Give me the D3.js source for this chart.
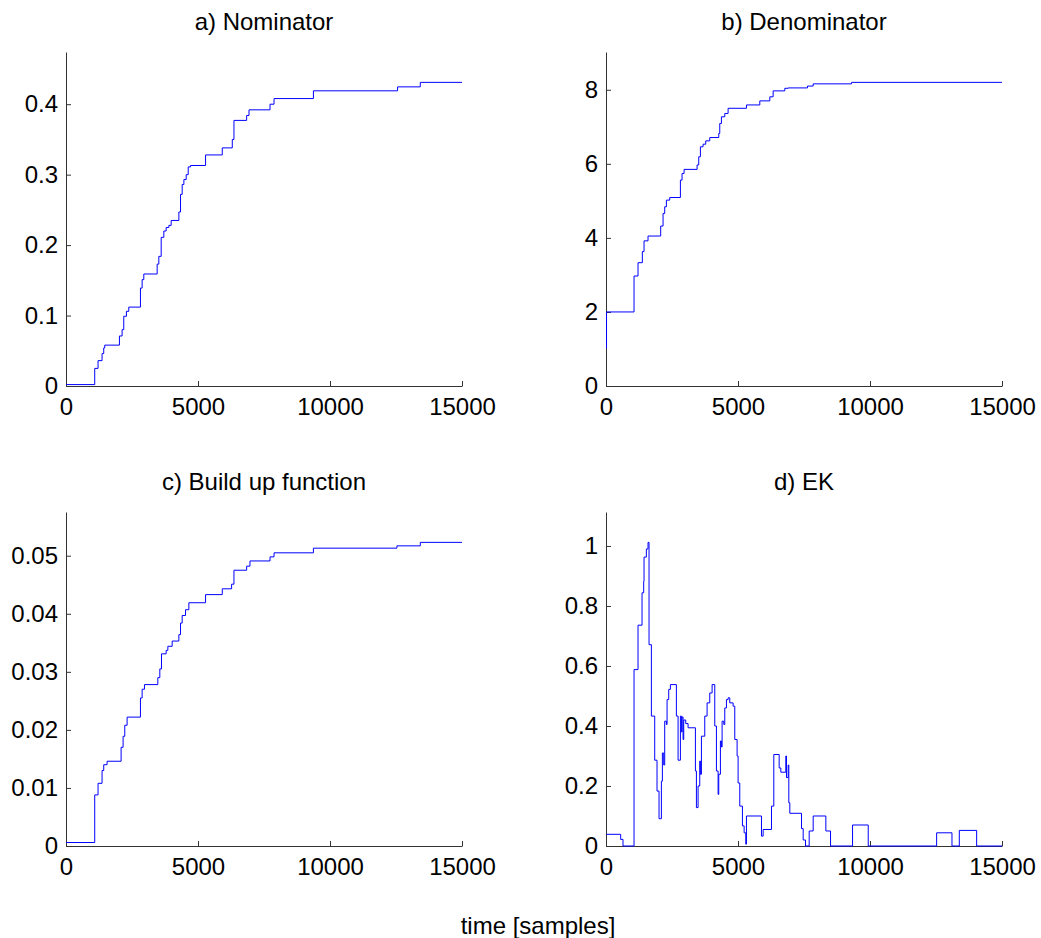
<!DOCTYPE html>
<html>
<head>
<meta charset="utf-8">
<script src="https://cdn.jsdelivr.net/npm/d3@7"></script>
<style>
  body { margin: 0; background: #fff; }
  svg { display: block; font-family: "Liberation Sans", Arial, sans-serif; }
</style>
</head>
<body>
<svg id="chart" width="1041" height="938"></svg>
<script>
// a) Nominator - step points (sample, value)
const nomX = [0, 1088, 1214, 1366, 1429, 1467, 2024, 2125, 2188, 2289, 2378, 2820, 2884, 2947,
  3453, 3516, 3605, 3706, 3794, 3896, 3984, 4275, 4338, 4401, 4465, 4553, 4629, 4718, 5287,
  5919, 6299, 6362, 6843, 6932, 7728, 7880, 9372, 12560, 13420, 15000];
const nomY = [0.002, 0.025, 0.036, 0.046, 0.054, 0.058, 0.071, 0.080, 0.099, 0.106, 0.112, 0.139, 0.151, 0.159,
  0.173, 0.184, 0.211, 0.220, 0.225, 0.228, 0.235, 0.247, 0.272, 0.286, 0.293, 0.300, 0.311, 0.313, 0.328,
  0.338, 0.350, 0.377, 0.384, 0.392, 0.400, 0.408, 0.419, 0.4246, 0.431, 0.431];

// b) Denominator
const denX = [0, 20, 1062, 1213, 1377, 1441, 1592, 2072, 2161, 2224, 2287, 2414, 2818, 2881, 2957,
  3450, 3513, 3576, 3677, 3778, 3930, 4271, 4309, 4372, 4499, 4625, 5320, 5826, 6205, 6331,
  6773, 6900, 7633, 7848, 9301, 15000];
const denY = [1.02, 2.0, 2.97, 3.33, 3.63, 3.92, 4.05, 4.32, 4.66, 4.84, 5.02, 5.09, 5.56, 5.74, 5.85,
  5.97, 6.19, 6.46, 6.53, 6.62, 6.71, 6.82, 7.09, 7.27, 7.36, 7.50, 7.59, 7.70, 7.81, 7.97,
  8.04, 8.05, 8.10, 8.16, 8.20, 8.20];

// c) Build up function
const buildX = [0, 1088, 1214, 1366, 1429, 1556, 2087, 2163, 2226, 2315, 2820, 2884, 2972, 3478, 3554,
  3617, 3794, 3858, 4022, 4275, 4338, 4401, 4528, 4654, 5287, 5919, 6273, 6362, 6843, 6969,
  7728, 7880, 9372, 12534, 13420, 15000];
const buildY = [0.0006, 0.0088, 0.0108, 0.0130, 0.0140, 0.0146, 0.0170, 0.0189, 0.0208, 0.0222, 0.0255, 0.0270, 0.0278, 0.0290, 0.0305,
  0.0331, 0.0337, 0.0344, 0.0353, 0.0364, 0.0384, 0.0397, 0.0407, 0.0419, 0.0433, 0.0443, 0.0451, 0.0475, 0.0482, 0.0491,
  0.0498, 0.0505, 0.0513, 0.0517, 0.0523, 0.0523];

// d) EK
const ekX = [0, 556, 644, 1062, 1213, 1365, 1428, 1441, 1529, 1592, 1630, 1719, 1845, 1933, 2009, 2098,
  2136, 2186, 2224, 2287, 2313, 2376, 2439, 2666, 2730, 2818, 2856, 2881, 2919, 2944, 3020, 3109,
  3387, 3425, 3488, 3551, 3576, 3614, 3741, 3829, 3930, 4019, 4120, 4183, 4246, 4271, 4334, 4372,
  4398, 4461, 4499, 4562, 4625, 4688, 4815, 4878, 4966, 5004, 5067, 5168, 5232, 5295, 5320, 5889,
  5952, 6268, 6356, 6559, 6622, 6811, 6836, 6900, 6925, 6963, 7406, 7469, 7557, 7696, 7848, 8328,
  8505, 9339, 9933, 12524, 13105, 13383, 14040, 15000];
const ekY = [0.039, 0.022, 0, 0.588, 0.736, 0.844, 0.882, 0.963, 0.99, 1.012, 0.671, 0.433, 0.286, 0.183, 0.091, 0.216,
  0.31, 0.27, 0.416, 0.405, 0.488, 0.522, 0.538, 0.433, 0.286, 0.433, 0.38, 0.43, 0.355, 0.42, 0.408, 0.394,
  0.25, 0.128, 0.20, 0.283, 0.239, 0.366, 0.433, 0.477, 0.51, 0.538, 0.40, 0.25, 0.172, 0.239, 0.35, 0.33,
  0.416, 0.405, 0.46, 0.488, 0.494, 0.477, 0.466, 0.355, 0.30, 0.21, 0.133, 0.067, 0.044, 0.006, 0.1, 0.033,
  0.055, 0.133, 0.305, 0.26, 0.246, 0.30, 0.228, 0.27, 0.144, 0.109, 0.058, 0.02, 0, 0.05, 0.1, 0.05,
  0, 0.07, 0, 0.044, 0, 0.052, 0, 0];

const titles = ["a) Nominator", "b) Denominator", "c) Build up function", "d) EK"];
const xTicks = [0, 5000, 10000, 15000];
const nomTicks = [0, 0.1, 0.2, 0.3, 0.4];
const denTicks = [0, 2, 4, 6, 8];
const buildTicks = [0, 0.01, 0.02, 0.03, 0.04, 0.05];
const ekTicks = [0, 0.2, 0.4, 0.6, 0.8, 1];
const xLabel = "time [samples]";

const svg = d3.select("#chart");
const fontSize = 24;
const axisColor = "#333";

const panels = [
  { title: titles[0], xs: nomX, ys: nomY, ticks: nomTicks, left: 66, top: 52 },
  { title: titles[1], xs: denX, ys: denY, ticks: denTicks, left: 606, top: 52 },
  { title: titles[2], xs: buildX, ys: buildY, ticks: buildTicks, left: 66, top: 512 },
  { title: titles[3], xs: ekX, ys: ekY, ticks: ekTicks, left: 606, top: 512 }
];
const w = 396, h = 334;

panels.forEach(p => {
  const g = svg.append("g").attr("transform", `translate(${p.left},${p.top})`);
  const x = d3.scaleLinear().domain([0, 15000]).range([0, w]);
  // matlab-ish: ylim = max * 1.1
  const y = d3.scaleLinear().domain([0, d3.max(p.ys) * 1.1]).range([h, 0]);

  const xAxis = g.append("g")
    .attr("transform", `translate(0,${h})`)
    .call(d3.axisBottom(x).tickValues(xTicks).tickFormat(d3.format("d"))
      .tickSizeInner(-5).tickSizeOuter(0).tickPadding(12));
  const yAxis = g.append("g")
    .call(d3.axisLeft(y).tickValues(p.ticks).tickFormat(d3.format("~g"))
      .tickSizeInner(-5).tickSizeOuter(0).tickPadding(8));

  [xAxis, yAxis].forEach(a => {
    a.select(".domain").attr("stroke", axisColor);
    a.selectAll(".tick line").attr("stroke", axisColor);
    a.selectAll("text").attr("font-size", fontSize).attr("fill", "#000")
      .attr("font-family", "Liberation Sans, Arial, sans-serif");
  });

  const pts = p.xs.map((d, i) => [d, p.ys[i]]);
  g.append("path")
    .datum(pts)
    .attr("fill", "none")
    .attr("stroke", "#0000ff")
    .attr("stroke-width", 1)
    .attr("d", d3.line().curve(d3.curveStepAfter).x(d => x(d[0])).y(d => y(d[1])));

  g.append("text")
    .attr("x", w / 2)
    .attr("y", -22)
    .attr("text-anchor", "middle")
    .attr("font-size", fontSize)
    .text(p.title);
});

svg.append("text")
  .attr("x", 538)
  .attr("y", 934)
  .attr("text-anchor", "middle")
  .attr("font-size", fontSize)
  .text(xLabel);
</script>
</body>
</html>
